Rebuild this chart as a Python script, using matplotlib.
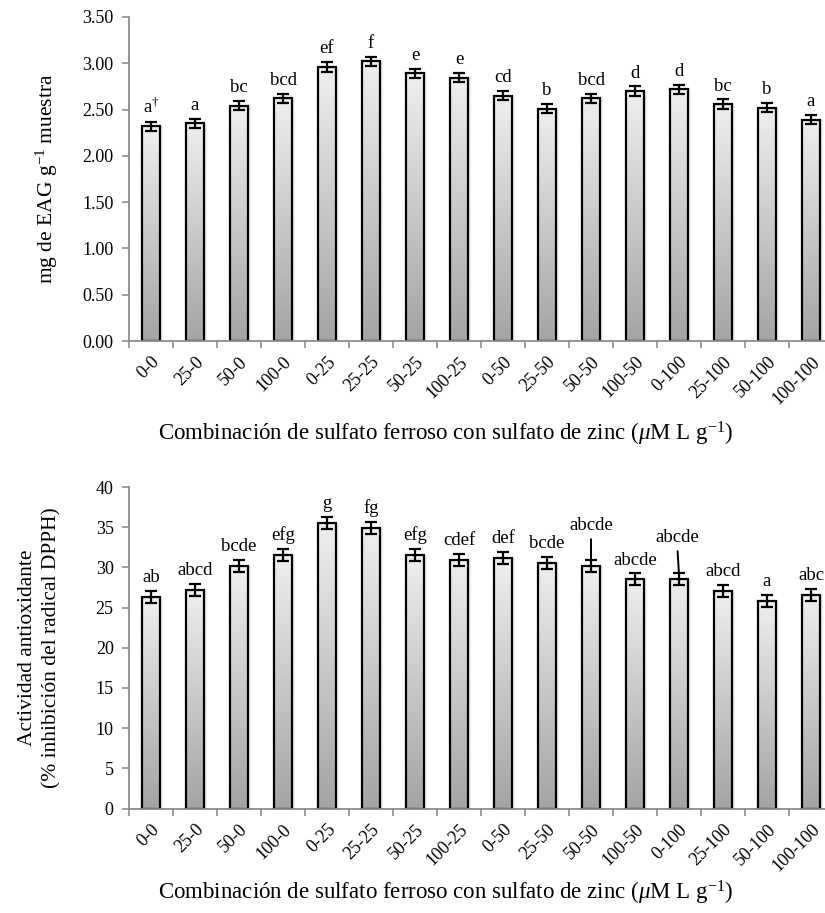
import numpy as np
import matplotlib
matplotlib.use("Agg")
import matplotlib.pyplot as plt
from matplotlib.colors import LinearSegmentedColormap

plt.rcParams['font.family'] = ['Liberation Serif', 'DejaVu Serif']
plt.rcParams['mathtext.fontset'] = 'custom'
plt.rcParams['mathtext.rm'] = 'Liberation Serif'
plt.rcParams['mathtext.it'] = 'Liberation Serif:italic'
plt.rcParams['mathtext.bf'] = 'Liberation Serif:bold'

categories = ["0-0", "25-0", "50-0", "100-0", "0-25", "25-25", "50-25", "100-25",
              "0-50", "25-50", "50-50", "100-50", "0-100", "25-100", "50-100", "100-100"]

phenol_vals = [2.32, 2.35, 2.54, 2.62, 2.96, 3.02, 2.89, 2.845, 2.65, 2.51, 2.62, 2.70, 2.72, 2.56, 2.52, 2.39]
phenol_err = [0.05] * 16
phenol_letters = ["a$^{\\mathrm{†}}$", "a", "bc", "bcd", "ef", "f", "e", "e", "cd", "b", "bcd", "d", "d", "bc", "b", "a"]

dpph_vals = [26.3, 27.2, 30.2, 31.5, 35.5, 34.9, 31.5, 30.9, 31.2, 30.5, 30.2, 28.5, 28.6, 27.05, 25.85, 26.6]
dpph_err = [0.75] * 16
dpph_letters = ["ab", "abcd", "bcde", "efg", "g", "fg", "efg", "cdef", "def", "bcde",
                "abcde", "abcde", "abcde", "abcd", "a", "abc"]
# labels drawn away from their bars with a leader line: index -> (label x, label bottom y)
dpph_raised = {10: (10.0, 34.2), 12: (11.95, 32.7)}

xlabel_text = "Combinación de sulfato ferroso con sulfato de zinc ($\\mathit{\\mu}$M L g$^{\\mathrm{-1}}$)"

fig = plt.figure(figsize=(8.25, 9.13), dpi=100)
ax1 = fig.add_axes([129/825, 1-341/913, 704/825, (341-17)/913])
ax2 = fig.add_axes([129/825, 1-808.5/913, 704/825, (808.5-487)/913])

cmap = LinearSegmentedColormap.from_list("g", ["#a4a4a4", "#efefef"])
grad = np.linspace(0, 1, 256).reshape(-1, 1)

def draw(ax, vals, errs, ymax, ystep, fmt):
    x = np.arange(len(vals))
    w = 0.43
    for xi, v in zip(x, vals):
        ax.imshow(grad, extent=[xi - w/2, xi + w/2, 0, v], origin='lower',
                  cmap=cmap, aspect='auto', zorder=1, interpolation='bilinear')
    ax.bar(x + 0.05, vals, w, color='#000000', alpha=0.07, zorder=0.5, linewidth=0)
    ax.bar(x, vals, w, facecolor='none', edgecolor='black', linewidth=1.6, zorder=2)
    ax.errorbar(x, vals, yerr=errs, fmt='none', ecolor='black', elinewidth=1.6,
                capsize=4, capthick=1.6, zorder=3)
    ax.set_xlim(-0.5, len(vals) - 0.5)
    ax.set_ylim(0, ymax)
    ticks = np.arange(0, ymax + ystep/2, ystep)
    ax.set_yticks(ticks)
    ax.set_yticklabels([fmt.format(t) for t in ticks], fontsize=13)
    ax.set_xticks(x)
    ax.set_xticklabels(categories, rotation=45, ha='right', va='top',
                       rotation_mode='anchor', fontsize=13)
    ax.set_xticks(np.arange(-0.5, len(vals) + 0.5, 1), minor=True)
    ax.tick_params(axis='x', which='major', length=0, pad=9)
    ax.tick_params(axis='x', which='minor', length=5, width=1.2, color='#8c8c8c', direction='out')
    ax.tick_params(axis='y', length=5, width=1.2, color='#8c8c8c', direction='out', pad=6)
    for s in ['top', 'right']:
        ax.spines[s].set_visible(False)
    for s in ['left', 'bottom']:
        ax.spines[s].set_color('#8c8c8c')
        ax.spines[s].set_linewidth(1.3)

draw(ax1, phenol_vals, phenol_err, 3.5, 0.5, "{:.2f}")
draw(ax2, dpph_vals, dpph_err, 40, 5, "{:.0f}")

for i, (v, e, t) in enumerate(zip(phenol_vals, phenol_err, phenol_letters)):
    ax1.annotate(t, (i, v + e), xytext=(0, 3.5), textcoords='offset points',
                 ha='center', va='bottom', fontsize=13.5)

for i, (v, e, t) in enumerate(zip(dpph_vals, dpph_err, dpph_letters)):
    if i in dpph_raised:
        tx, ty = dpph_raised[i]
        ax2.annotate(t, (i, v + e - 0.3), xytext=(tx, ty), textcoords='data',
                     ha='center', va='bottom', fontsize=13.5,
                     arrowprops=dict(arrowstyle='-', color='black', lw=1.4,
                                     shrinkA=2, shrinkB=0))
    else:
        ax2.annotate(t, (i, v + e), xytext=(0, 3.5), textcoords='offset points',
                     ha='center', va='bottom', fontsize=13.5)

ax1.set_ylabel("mg de EAG g$^{\\mathrm{-1}}$ muestra", fontsize=15.5)
ax1.yaxis.set_label_coords(-(129 - 60) / 704, 0.5)
ax2.set_ylabel("Actividad antioxidante\n(% inhibición del radical DPPH)", fontsize=15.5,
               linespacing=1.35)
ax2.yaxis.set_label_coords(-(129 - 61) / 704, 0.5)

fig.text(446/825, 1-434/913, xlabel_text, ha='center', va='center', fontsize=16.5)
fig.text(446/825, 1-893/913, xlabel_text, ha='center', va='center', fontsize=16.5)

fig.savefig("out.png", dpi=100)
